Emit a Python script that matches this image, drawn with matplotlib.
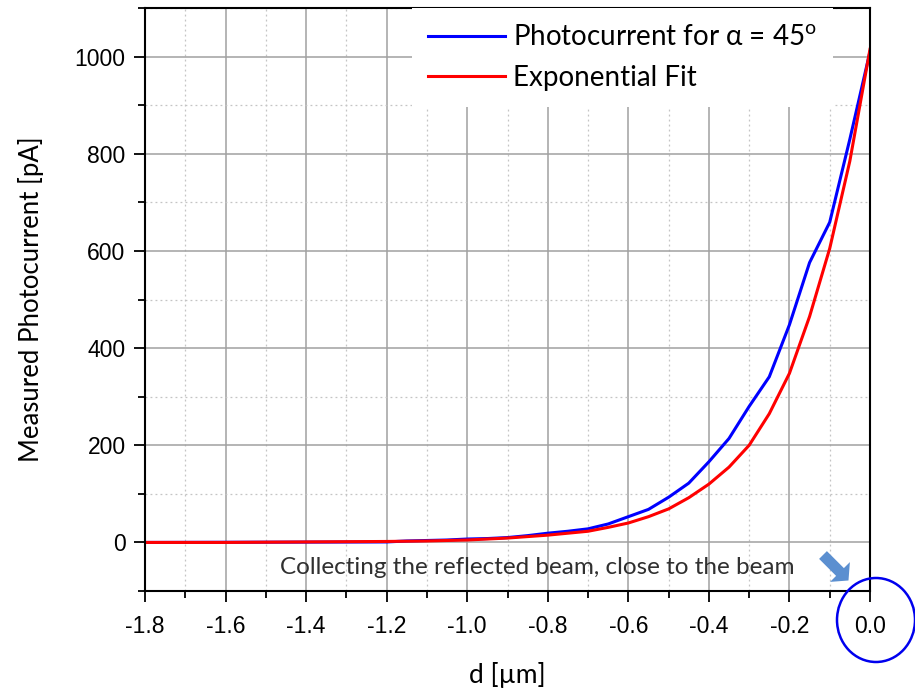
import matplotlib
matplotlib.use("Agg")
import matplotlib.pyplot as plt
from matplotlib.patches import Ellipse, FancyArrow
from matplotlib.ticker import MultipleLocator, FormatStrFormatter

# measured photocurrent (blue) and exponential fit (red)
d_meas = [-1.8, -1.2, -1.15, -1.1, -1.05, -1.0, -0.95, -0.9, -0.85, -0.8, -0.75, -0.7,
          -0.65, -0.6, -0.55, -0.5, -0.45, -0.4, -0.35, -0.3, -0.25, -0.2, -0.15,
          -0.1, -0.05, 0.0]
i_meas = [0, 1, 3, 4, 5, 7, 8, 10, 14, 19, 23, 28,
          38, 53, 68, 93, 122, 166, 214, 280, 341, 448, 576,
          659, 830, 1010]

d_fit = [-1.8, -1.6, -1.4, -1.2, -1.1, -1.0, -0.9, -0.8, -0.7, -0.65, -0.6, -0.55,
         -0.5, -0.45, -0.4, -0.35, -0.3, -0.25, -0.2, -0.15, -0.1, -0.05, 0.0]
i_fit = [0, 0, 1, 2, 3, 5, 9, 15, 23, 31, 40, 53,
         69, 92, 120, 155, 200, 265, 348, 465, 605, 785, 1015]

plt.rcParams['font.family'] = ['Liberation Sans', 'DejaVu Sans']
plt.rcParams['mathtext.fontset'] = 'custom'
plt.rcParams['mathtext.rm'] = 'Lato'

fig = plt.figure(figsize=(9.15, 6.91), dpi=100)
ax = fig.add_axes([0.1585, 0.1447, 0.7923, 0.8437])

ax.plot(d_meas, i_meas, color='#0000ff', lw=2.2, label='Photocurrent for α = 45$^{\\rm o}$')
ax.plot(d_fit, i_fit, color='#ff0000', lw=2.2, label='Exponential Fit')

ax.set_xlim(-1.8, 0.0)
ax.set_ylim(-100, 1100)
ax.xaxis.set_major_locator(MultipleLocator(0.2))
ax.xaxis.set_minor_locator(MultipleLocator(0.1))
ax.yaxis.set_major_locator(MultipleLocator(200))
ax.yaxis.set_minor_locator(MultipleLocator(100))
ax.xaxis.set_major_formatter(FormatStrFormatter('%.1f'))

ax.grid(which='major', color='#a0a0a0', lw=1.1, ls='-')
ax.grid(which='minor', color='#c4c4c4', lw=0.9, ls=(0, (1.5, 2.5)))
ax.set_axisbelow(True)

ax.tick_params(which='major', direction='out', length=8, width=1.3, labelsize=16.5, pad=6)
ax.tick_params(axis='x', which='major', pad=9.5)
ax.tick_params(which='minor', direction='out', length=5, width=1.3)
for sp in ax.spines.values():
    sp.set_linewidth(1.5)

ax.set_xlabel('d [µm]', family='Lato', fontsize=19, labelpad=17)
ax.set_ylabel('Measured Photocurrent [pA]', family='Lato', fontsize=18.5, labelpad=22)

leg = ax.legend(loc='upper right', bbox_to_anchor=(0.949, 1.0),
                prop={'family': 'Lato', 'size': 20},
                frameon=True, facecolor='white', edgecolor='none', framealpha=1,
                handlelength=2.75, handletextpad=0.28, borderaxespad=0,
                labelspacing=0.5, borderpad=0.6, fancybox=False)

fig.text(0.306, 1 - 567 / 691, 'Collecting the reflected beam, close to the beam',
         family='Lato', fontsize=17.5, color='#303030', va='center', ha='left')

# block arrow next to the note
fig.add_artist(FancyArrow(8.23, 6.91 - 5.55, 0.17, -0.17, width=0.11, head_width=0.28,
                          head_length=0.12, length_includes_head=False,
                          transform=fig.dpi_scale_trans, color='#5b8fd0', lw=0))

# circle around the zero tick
fig.add_artist(Ellipse((876 / 915, 1 - 620 / 691), 78 / 915, 84 / 691,
                       transform=fig.transFigure, fill=False, edgecolor='#0000ee', lw=1.8))

fig.savefig('out.png', dpi=100)
